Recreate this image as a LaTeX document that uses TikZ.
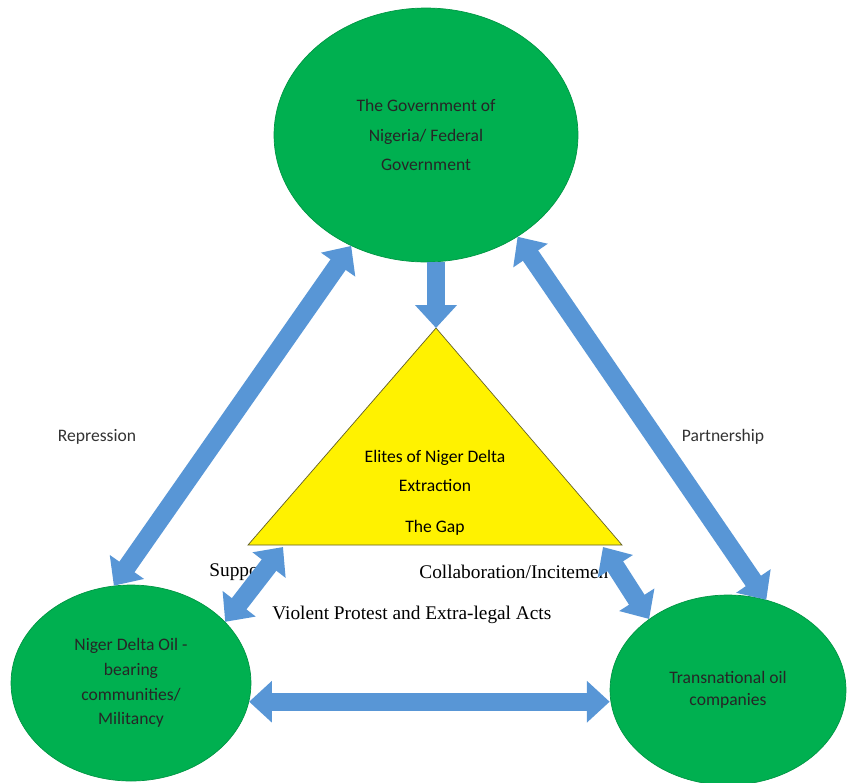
\documentclass[tikz,border=0pt]{standalone}
\usepackage{fontspec}
\setmainfont{Carlito}
\newfontfamily\timesfont{Liberation Serif}
\usetikzlibrary{shapes.geometric, arrows.meta}

\definecolor{actorgreen}{RGB}{0,176,80}
\definecolor{arrowblue}{RGB}{88,150,214}

\tikzset{
  actor/.style={ellipse, fill=actorgreen, draw=actorgreen!85!black, inner sep=0pt,
    align=center, text=black!85},
  oneway/.style={draw=arrowblue, line width=10.5pt, -{Triangle[length=13pt,width=23pt]}},
  twoway/.style={draw=arrowblue, line width=10.5pt,
    {Triangle[length=13pt,width=23pt]}-{Triangle[length=13pt,width=23pt]}},
  sidelabel/.style={font=\fontsize{10}{12}\selectfont, text=black!80},
  romanlabel/.style={font=\timesfont\fontsize{11}{13}\selectfont, inner sep=0pt}
}

\begin{document}
\begin{tikzpicture}[x=0.02cm, y=-0.02cm]
  \useasboundingbox (0,0) rectangle (847,782);

  %the three actors
  \node[actor, minimum width=6.08cm, minimum height=5.08cm, font=\fontsize{10}{17}\selectfont]
    (gov) at (426,135) {The Government of\\Nigeria/ Federal\\Government};
  \node[actor, minimum width=4.8cm, minimum height=3.92cm, font=\fontsize{10}{14}\selectfont]
    (niger) at (131,683) {Niger Delta Oil -\\bearing\\communities/\\Militancy};
  \node[actor, minimum width=4.72cm, minimum height=3.8cm, font=\fontsize{10}{12.5}\selectfont]
    (trans) at (728,690) {Transnational oil\\companies};

  %the elites triangle
  \coordinate (apex) at (436,328);
  \coordinate (baseL) at (248,545);
  \coordinate (baseR) at (622,545);
  \draw[fill=yellow, draw=olive!60!black] (apex) -- (baseL) -- (baseR) -- cycle;
  \node[align=center, font=\fontsize{10}{16}\selectfont] (elites) at (435,471) {Elites of Niger Delta\\Extraction};
  \node[font=\fontsize{10}{12}\selectfont] (gap) at (435,528) {The Gap};

  %labels
  \node[sidelabel] (repression) at (97,437) {Repression};
  \node[sidelabel] (partnership) at (723,437) {Partnership};
  \node[romanlabel, anchor=west] (support) at (209,572) {Suppo};
  \node[romanlabel, anchor=west] (collab) at (419,572) {Collaboration/Incitemen};
  \node[romanlabel, anchor=west] (violent) at (272,615) {Violent Protest and Extra-legal Acts};

  %arrow end points on the triangle base
  \coordinate (suppTop) at (283,547);
  \coordinate (collabTop) at (603,547);

  %the block arrows
  \draw[oneway] (apex |- gov.south) -- (apex);
  \draw[twoway] (gov.236) -- (niger.100);
  \draw[twoway] (gov.312) -- (trans.67);
  \draw[twoway] (suppTop) -- (niger.33);
  \draw[twoway] (collabTop) -- (trans.138);
  \draw[twoway] (niger.-9) -- (niger.-9 -| trans.west);
\end{tikzpicture}
\end{document}
